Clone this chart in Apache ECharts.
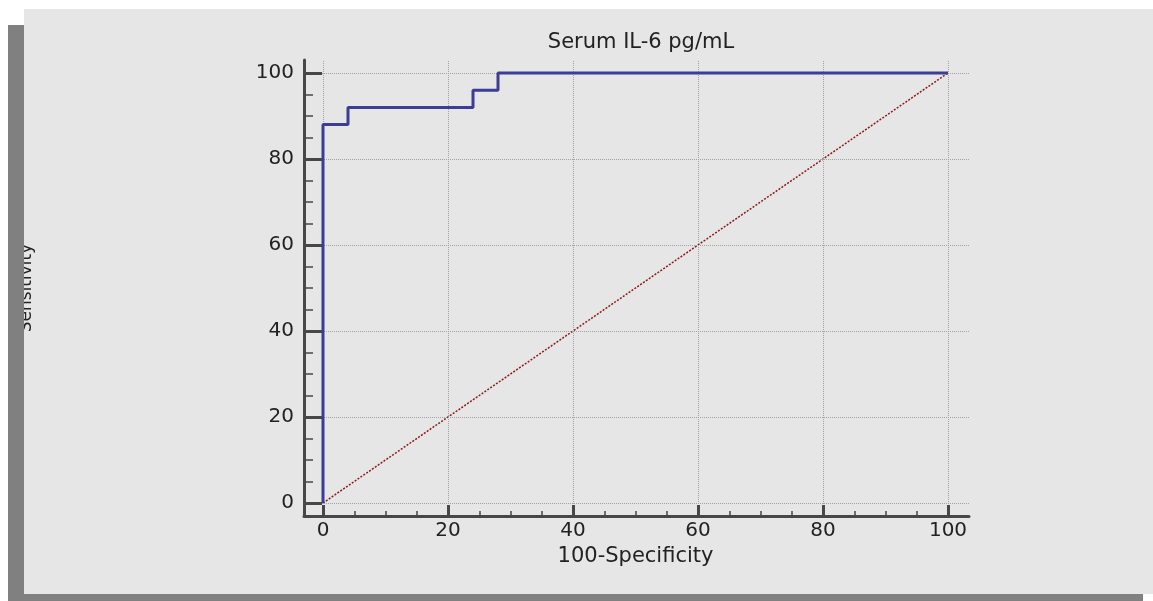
<!DOCTYPE html>
<html>
<head>
<meta charset="utf-8">
<script src="https://cdn.jsdelivr.net/npm/echarts@6/dist/echarts.min.js"></script>
<style>
  html, body { margin: 0; padding: 0; background: #fff; }
  #chart { width: 1153px; height: 601px; }
</style>
</head>
<body>
<div id="chart"></div>
<script>
// ROC curve corner points (100-Specificity, Sensitivity)
const rocX = [0, 0, 4, 4, 24, 24, 28, 28, 100];
const rocY = [0, 88, 88, 92, 92, 96, 96, 100, 100];
// reference diagonal
const diagX = [0, 100];
const diagY = [0, 100];
// major tick values, same on both axes
const tickValues = [0, 20, 40, 60, 80, 100];

const titleText = 'Serum IL-6 pg/mL';
const xName = '100-Specificity';
const yName = 'Sensitivity';

const font = 'DejaVu Sans';
const axisColor = '#474747';
const textColor = '#222';

const chart = echarts.init(document.getElementById('chart'));

// gridlines drawn as markLines so they run the whole axis box
const gridLines = tickValues.map(v => ({ yAxis: v })).concat(tickValues.map(v => ({ xAxis: v })));

const option = {
  animation: false,
  backgroundColor: '#fff',
  title: {
    text: titleText,
    left: 636,
    textAlign: 'center',
    top: 27,
    textStyle: { fontFamily: font, fontSize: 21, fontWeight: 'normal', color: textColor }
  },
  graphic: {
    elements: [
      // drop shadow of the panel
      { type: 'rect', z: -100, shape: { x: 8, y: 25, width: 1135, height: 600 }, style: { fill: '#808080' } },
      // panel
      { type: 'rect', z: -99, shape: { x: 24, y: 9, width: 1140, height: 585 }, style: { fill: '#e6e6e6' } },
      // left shadow strip over the axis name (name is cut at panel edge)
      { type: 'rect', z: 100, shape: { x: 8, y: 200, width: 16, height: 200 }, style: { fill: '#808080' } }
    ]
  },
  grid: [
    // outer box: long axis lines
    { left: 304, right: 184, top: 60, bottom: 85 },
    // data box: ticks and labels
    { left: 323, right: 205, top: 73, bottom: 98 }
  ],
  xAxis: [
    {
      gridIndex: 0, type: 'value', min: -3.04, max: 103.36, z: 10,
      axisLine: { show: true, onZero: false, lineStyle: { color: axisColor, width: 3 } },
      axisTick: { show: false }, axisLabel: { show: false }, splitLine: { show: false }
    },
    {
      gridIndex: 1, type: 'value', min: 0, max: 100, interval: 20, offset: 13, z: 10,
      name: xName, nameLocation: 'middle', nameGap: 26,
      nameTextStyle: { fontFamily: font, fontSize: 21, color: textColor },
      axisLine: { show: false, onZero: false },
      axisTick: { show: true, inside: true, length: 11, lineStyle: { color: axisColor, width: 3 } },
      minorTick: { show: true, splitNumber: 4, length: 5, lineStyle: { color: axisColor, width: 1.5 } },
      axisLabel: { margin: 5, fontFamily: font, fontSize: 20, color: textColor },
      splitLine: { show: false }
    }
  ],
  yAxis: [
    {
      gridIndex: 0, type: 'value', min: -3.02, max: 103.02, z: 10,
      axisLine: { show: true, onZero: false, lineStyle: { color: axisColor, width: 3 } },
      axisTick: { show: false }, axisLabel: { show: false }, splitLine: { show: false }
    },
    {
      gridIndex: 1, type: 'value', min: 0, max: 100, interval: 20, offset: 19, z: 10,
      name: yName, nameLocation: 'middle', nameRotate: 90, nameGap: 269,
      nameTextStyle: { fontFamily: font, fontSize: 17, color: textColor },
      axisLine: { show: false, onZero: false },
      axisTick: { show: true, inside: true, length: 18, lineStyle: { color: axisColor, width: 3 } },
      minorTick: { show: true, splitNumber: 4, length: 9, lineStyle: { color: axisColor, width: 1.5 } },
      axisLabel: { margin: 10, fontFamily: font, fontSize: 20, color: textColor },
      splitLine: { show: false }
    }
  ],
  series: [
    {
      name: 'grid',
      type: 'line',
      xAxisIndex: 0, yAxisIndex: 0,
      data: [],
      z: 1,
      markLine: {
        silent: true,
        symbol: ['none', 'none'],
        label: { show: false },
        lineStyle: { type: [1, 1], color: '#a2a2a2', width: 1 },
        data: gridLines
      }
    },
    {
      name: 'Reference',
      type: 'line',
      xAxisIndex: 0, yAxisIndex: 0,
      data: diagX.map((x, i) => [x, diagY[i]]),
      showSymbol: false,
      z: 3,
      lineStyle: { color: '#8b1a1a', width: 1.5, type: [2, 1.5] }
    },
    {
      name: 'ROC',
      type: 'line',
      xAxisIndex: 0, yAxisIndex: 0,
      data: rocX.map((x, i) => [x, rocY[i]]),
      showSymbol: false,
      z: 5,
      lineStyle: { color: '#3d3d98', width: 3 }
    }
  ]
};

chart.setOption(option);
</script>
</body>
</html>
